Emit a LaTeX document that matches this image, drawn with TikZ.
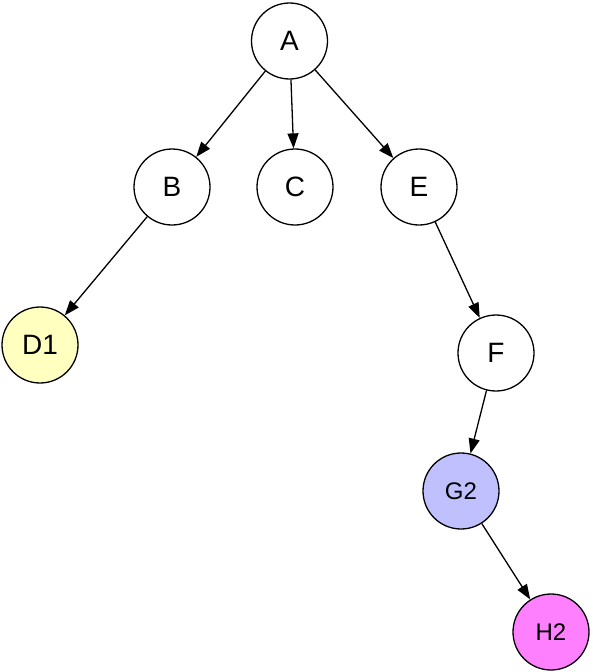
\documentclass[tikz,border=0pt]{standalone}
\usepackage{fontspec}
\setmainfont{Liberation Sans}
\usetikzlibrary{arrows.meta}
\begin{document}
\begin{tikzpicture}[x=1pt,y=-1pt,
  nd/.style={circle,draw=black,line width=1.3pt,minimum size=76pt,inner sep=0pt,font=\fontsize{28}{30}\selectfont},
  sm/.style={font=\fontsize{24}{26}\selectfont},
  ed/.style={draw=black,line width=1.3pt,-{Triangle[length=15pt,width=11pt]}}]
\useasboundingbox (0,0) rectangle (592,672);
\node[nd] (A) at (289.5,41) {A};
\node[nd] (B) at (172,187) {B};
\node[nd] (C) at (295,187) {C};
\node[nd] (E) at (419,187) {E};
\node[nd,fill={rgb,255:red,255;green,255;blue,192}] (D1) at (40,345) {D1};
\node[nd] (F) at (496,353) {F};
\node[nd,sm,fill={rgb,255:red,192;green,192;blue,255}] (G2) at (461,491) {G2};
\node[nd,sm,fill={rgb,255:red,255;green,128;blue,255}] (H2) at (551,632) {H2};
\draw[ed] (A) -- (B);
\draw[ed] (A) -- (C);
\draw[ed] (A) -- (E);
\draw[ed] (B) -- (D1);
\draw[ed] (E) -- (F);
\draw[ed] (F) -- (G2);
\draw[ed] (G2) -- (H2);
\end{tikzpicture}
\end{document}
